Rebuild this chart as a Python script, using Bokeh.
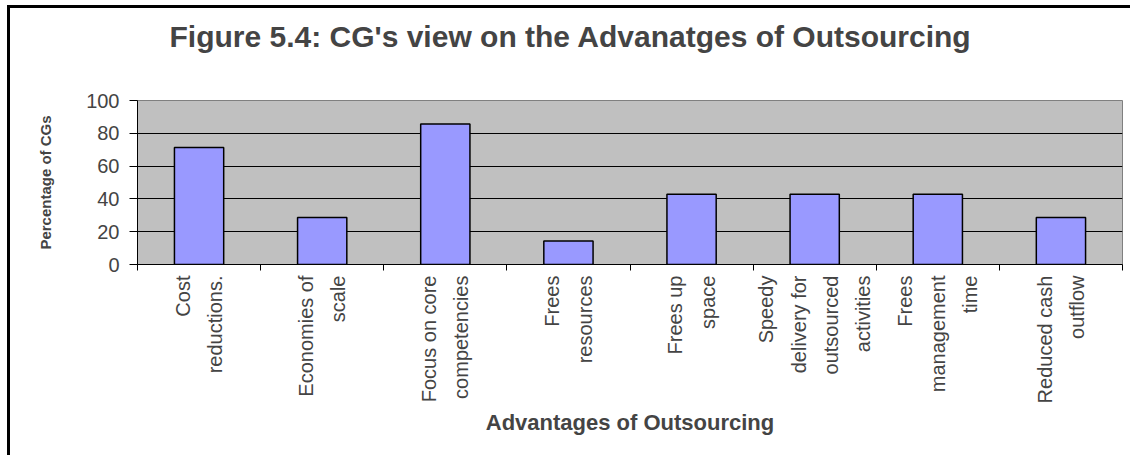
import math
from bokeh.plotting import figure
from bokeh.models import FixedTicker, Range1d
from bokeh.embed import file_html
from bokeh.resources import INLINE

# ---- data ----
categories = [
    "Cost\nreductions.",
    "Economies of\nscale",
    "Focus on core\ncompetencies",
    "Frees\nresources",
    "Frees up\nspace",
    "Speedy\ndelivery for\noutsourced\nactivities",
    "Frees\nmanagement\ntime",
    "Reduced cash\noutflow",
]
values = [71.4, 28.6, 85.7, 14.3, 42.9, 42.9, 42.9, 28.6]
y_ticks = [0, 20, 40, 60, 80, 100]
title_text = "Figure 5.4: CG's view on the Advanatges of Outsourcing"
x_title = "Advantages of Outsourcing"
y_title = "Percentage of CGs"

n = len(categories)
positions = list(range(1, n + 1))
boundaries = [i + 0.5 for i in range(0, n + 1)]

FONT = "Liberation Sans"

p = figure(width=1123, height=450, output_backend="svg", toolbar_location=None,
           x_range=Range1d(0.5, n + 0.5), y_range=Range1d(0, 100),
           min_border_left=127, min_border_right=11, min_border_top=92,
           min_border_bottom=194, title=title_text)

p.styles = {"border-left": "3px solid #000", "border-top": "3px solid #000",
            "margin-left": "7px", "margin-top": "5px"}

p.background_fill_color = "#C0C0C0"
p.border_fill_color = "white"
p.outline_line_color = "#808080"
p.outline_line_width = 1

p.vbar(x=positions, top=values, width=0.4, bottom=0,
       fill_color="#9999FF", line_color="black", line_width=1.5)

# title
p.title.text_font = FONT
p.title.text_font_size = "30px"
p.title.text_font_style = "bold"
p.title.align = "left"
p.title.offset = 32
p.title.vertical_align = "top"
p.title.standoff = 20
p.title.padding = dict(left=0, right=0, top=0, bottom=36)

# grid
p.xgrid.visible = False
p.ygrid.ticker = FixedTicker(ticks=y_ticks)
p.ygrid.grid_line_color = "black"
p.ygrid.grid_line_width = 1

# y axis
ya = p.yaxis[0]
ya.ticker = FixedTicker(ticks=y_ticks)
ya.axis_line_color = "black"
ya.major_tick_out = 8
ya.major_tick_in = 0
ya.minor_tick_line_color = None
ya.major_label_text_font = FONT
ya.major_label_text_font_size = "20px"
ya.major_label_standoff = 10
ya.axis_label = y_title
ya.axis_label_text_font = FONT
ya.axis_label_text_font_size = "15px"
ya.axis_label_text_font_style = "bold"
ya.axis_label_standoff = 29

# x axis
xa = p.xaxis[0]
xa.ticker = FixedTicker(ticks=positions, minor_ticks=boundaries)
xa.major_label_overrides = {pos: cat for pos, cat in zip(positions, categories)}
xa.major_tick_out = 0
xa.major_tick_in = 0
xa.major_tick_line_color = None
xa.minor_tick_out = 6
xa.minor_tick_in = 0
xa.minor_tick_line_color = "black"
xa.axis_line_color = "black"
xa.major_label_orientation = math.pi / 2
xa.major_label_text_font = FONT
xa.major_label_text_font_size = "20px"
xa.major_label_text_line_height = 1.47
xa.major_label_standoff = 5
xa.axis_label = x_title
xa.axis_label_text_font = FONT
xa.axis_label_text_font_size = "22px"
xa.axis_label_text_font_style = "bold"
xa.axis_label_standoff = 4

open("out.html", "w").write(file_html(p, INLINE))
